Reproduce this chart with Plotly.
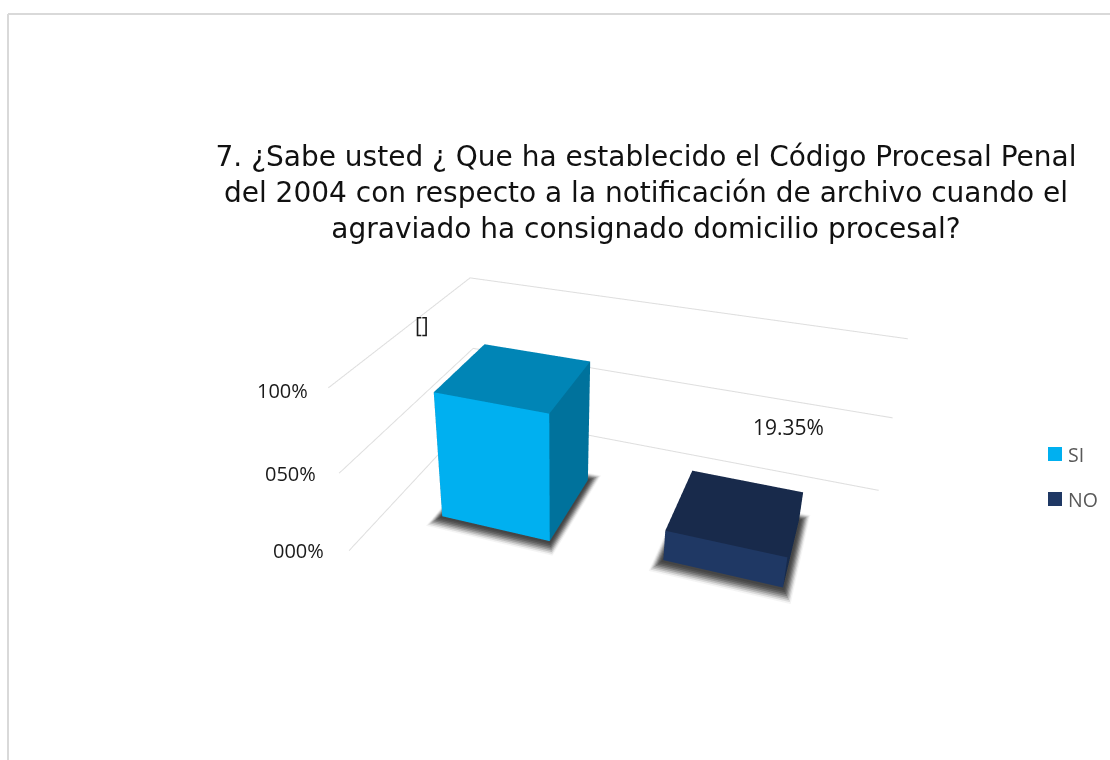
import plotly.graph_objects as go

# Chart content
categories = ["SI", "NO"]
values = [80.65, 19.35]
value_labels = ["[]", "19.35%"]
tick_values = [0, 50, 100]
tick_labels = ["000%", "050%", "100%"]
title_lines = [
    "7. ¿Sabe usted ¿ Que ha establecido el Código Procesal Penal",
    "del 2004 con respecto a la notificación de archivo cuando el",
    "agraviado ha consignado domicilio procesal?",
]

# Face colours per bar: front, top, side
bar_colours = {
    "SI": ("#00B0F0", "#0085B6", "#00729C"),
    "NO": ("#1F3864", "#182A4B", "#172A4B"),
}

# Bar footprints on the floor: half width, centre, front edge, back edge
footprints = [
    (0.2488, 0.4961, 0.2855, 0.6859),
    (0.2380, 1.4560, 0.3223, 0.7040),
]

# Scene proportions and camera
ASPECT = (1.5291, 0.9353, 0.5745)
EYE = (0.6537, -2.4006, 1.4959)
CENTER = (-0.2210, -0.0843, 0.2269)
PAD = 1.04  # axis ranges run 4% past the drawn box so nothing is clipped at the edges

W, H = 1110.0, 760.0
LIT = dict(ambient=1, diffuse=0, specular=0, roughness=1, fresnel=0)


def box_mesh(footprint, height, colours, name):
    hw, centre, y0, y1 = footprint
    x0, x1 = centre - hw, centre + hw
    xs = [x0, x1, x1, x0, x0, x1, x1, x0]
    ys = [y0, y0, y1, y1, y0, y0, y1, y1]
    zs = [0, 0, 0, 0, height, height, height, height]
    front, top, side = colours
    faces = [(0, 1, 5, front), (0, 5, 4, front), (4, 5, 6, top), (4, 6, 7, top),
             (1, 2, 6, side), (1, 6, 5, side), (3, 0, 4, side), (3, 4, 7, side)]
    return go.Mesh3d(
        x=xs, y=ys, z=zs,
        i=[f[0] for f in faces], j=[f[1] for f in faces], k=[f[2] for f in faces],
        facecolor=[f[3] for f in faces], flatshading=True, lighting=LIT,
        name=name, showlegend=False, hoverinfo="name",
    )


def shadow(footprint, ex, ey, z, colour):
    hw, centre, y0, y1 = footprint
    x0, x1 = centre - hw - ex, centre + hw + ex
    a, b = y0 - ey, y1 + ey
    return go.Mesh3d(
        x=[x0, x1, x1, x0], y=[a, a, b, b], z=[z] * 4, i=[0, 0], j=[1, 2], k=[2, 3],
        color=colour, flatshading=True, lighting=LIT, showlegend=False, hoverinfo="skip",
    )


fig = go.Figure()

# Grid lines along the left and back walls
for t in tick_values:
    fig.add_trace(go.Scatter3d(
        x=[0, 0, 2], y=[0, 1, 1], z=[t, t, t], mode="lines",
        line=dict(color="#DEDEDE", width=2), showlegend=False, hoverinfo="skip",
    ))

# Soft floor shadow built from nested quads, then the bar on top
shadow_layers = [(1.0, "#F4F4F4"), (.88, "#DCDCDC"), (.76, "#BDBDBD"), (.64, "#9C9C9C"),
                 (.52, "#7C7C7C"), (.40, "#626262"), (.28, "#505050"), (.16, "#454545")]
for footprint, cat, val in zip(footprints, categories, values):
    for n, (s, col) in enumerate(shadow_layers):
        fig.add_trace(shadow(footprint, .04 * s, .06 * s, -1.4 + .15 * n, col))
    fig.add_trace(box_mesh(footprint, val, bar_colours[cat], cat))

# Axis tick labels and value labels, anchored to scene coordinates
tick_shifts = [(-51, 0), (-49, 0), (-46, -3)]
scene_notes = [
    dict(x=0, y=0, z=t, text=l, showarrow=False, xshift=sx, yshift=sy,
         font=dict(family="Open Sans", size=20, color="#1a1a1a"))
    for t, l, (sx, sy) in zip(tick_values, tick_labels, tick_shifts)
]
label_shifts = [(-93, 51), (52, 84)]
for fp, v, l, (sx, sy) in zip(footprints, values, value_labels, label_shifts):
    scene_notes.append(dict(
        x=fp[1], y=(fp[2] + fp[3]) / 2, z=v, text=l, showarrow=False, xshift=sx, yshift=sy,
        font=dict(family="Open Sans", size=21, color="#1a1a1a"),
    ))

# Legend swatches and names
legend_swatches = [
    dict(type="rect", xref="paper", yref="paper", x0=1048 / W, x1=1062 / W,
         y0=1 - (447 + 45 * i + 14) / H, y1=1 - (447 + 45 * i) / H,
         fillcolor=bar_colours[c][0], line=dict(width=0))
    for i, c in enumerate(categories)
]
legend_text = [
    dict(xref="paper", yref="paper", x=1066 / W, y=1 - (454 + 45 * i) / H,
         xanchor="left", yanchor="middle", text=c, showarrow=False,
         font=dict(family="Open Sans", size=19.5, color="#595959"))
    for i, c in enumerate(categories)
]

axis_off = dict(visible=False, showbackground=False, showgrid=False, zeroline=False)
fig.update_layout(
    margin=dict(l=0, r=0, t=0, b=0),
    paper_bgcolor="white",
    title=dict(
        text="<br>".join(title_lines), x=0.582, xanchor="center", y=0.782, yanchor="bottom",
        font=dict(family="DejaVu Sans", size=28, color="#111111"),
    ),
    scene=dict(
        domain=dict(x=[0, 1], y=[0, 1]),
        xaxis=dict(range=[-.04, 2.04], **axis_off),
        yaxis=dict(range=[-.02, 1.02], **axis_off),
        zaxis=dict(range=[-2, 102], **axis_off),
        aspectmode="manual",
        aspectratio=dict(x=ASPECT[0] * PAD, y=ASPECT[1] * PAD, z=ASPECT[2] * PAD),
        camera=dict(
            eye=dict(x=EYE[0], y=EYE[1], z=EYE[2]),
            center=dict(x=CENTER[0], y=CENTER[1], z=CENTER[2]),
            up=dict(x=0, y=0, z=1),
        ),
        annotations=scene_notes,
        bgcolor="rgba(0,0,0,0)",
    ),
    showlegend=False,
    annotations=legend_text,
    shapes=legend_swatches + [
        dict(type="line", xref="paper", yref="paper", x0=8 / W, x1=1, y0=1 - 14 / H, y1=1 - 14 / H,
             line=dict(color="#D9D9D9", width=2)),
        dict(type="line", xref="paper", yref="paper", x0=8 / W, x1=8 / W, y0=0, y1=1 - 14 / H,
             line=dict(color="#D9D9D9", width=2)),
    ],
)

fig.write_html("out.html")
